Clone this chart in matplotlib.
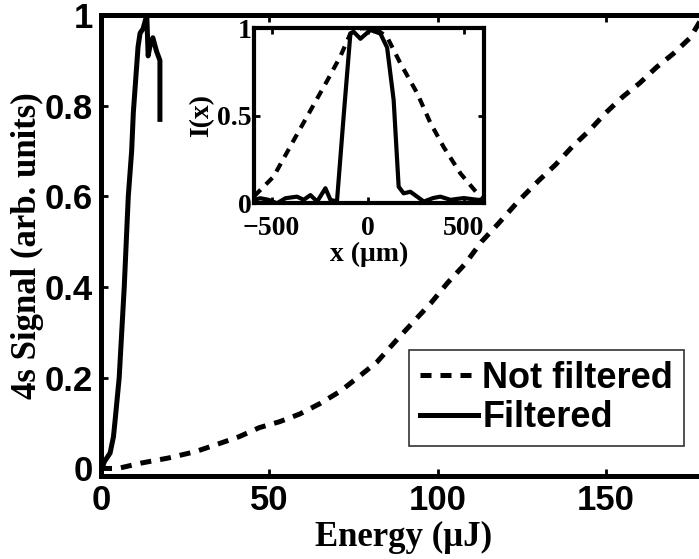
import numpy as np
import matplotlib
matplotlib.use('Agg')
import matplotlib.pyplot as plt

# main panel: 4s signal vs pulse energy
energy_nf = [0, 5, 12, 20, 28, 34, 41, 47, 53, 59, 65, 71, 77, 82, 88, 93,
             98, 103, 108, 113, 118, 124, 130, 135, 140, 145, 150, 155, 160,
             165, 170, 175, 179]
signal_nf = [0, 0.0, 0.012, 0.023, 0.037, 0.052, 0.07, 0.09, 0.103, 0.12,
             0.143, 0.17, 0.205, 0.235, 0.285, 0.325, 0.365, 0.41, 0.45, 0.5,
             0.54, 0.59, 0.635, 0.67, 0.71, 0.745, 0.785, 0.82, 0.85, 0.885,
             0.915, 0.95, 1.0]

energy_f = [0, 0.3, 1.0, 2.7, 3.7, 4.2, 5.4, 6.9, 8.1, 9.1, 9.6, 11.0, 11.6,
            12.5, 13.6, 14.0, 14.5, 15.4, 16.5, 17.5, 17.5]
signal_f = [0, 0.0, 0.015, 0.034, 0.07, 0.107, 0.2, 0.4, 0.6, 0.70, 0.785,
            0.93, 0.96, 0.97, 1.0, 0.91, 0.93, 0.95, 0.92, 0.90, 0.77]

# inset: transverse beam profiles
x_nf = [-590, -576, -490, -385, -298, -211, -142, -90, -40, 10, 50, 101, 170,
        257, 326, 396, 483, 570, 605]
I_nf = [0.04, 0.057, 0.152, 0.36, 0.53, 0.70, 0.84, 0.97, 1.0, 1.0, 0.99,
        0.95, 0.80, 0.63, 0.46, 0.32, 0.17, 0.057, 0.03]

x_f = [-590, -559, -516, -472, -428, -368, -333, -298, -263, -220, -194, -160,
       -125, -90, -73, -38, 14, 66, 101, 135, 161, 187, 222, 257, 292, 340,
       378, 430, 500, 570, 605]
I_f = [0.02, 0.029, 0.02, 0.0, 0.029, 0.038, 0.02, 0.047, 0.01, 0.086, 0.02,
       0.01, 0.5, 0.97, 0.98, 0.94, 0.99, 0.97, 0.89, 0.59, 0.095, 0.057,
       0.066, 0.038, 0.01, 0.03, 0.038, 0.02, 0.03, 0.02, 0.02]

sans = 'Liberation Sans'
serif = 'Liberation Serif'
dash = (0, (2.2, 1.8))

fig = plt.figure(figsize=(6.99, 5.59), dpi=100)
ax = fig.add_axes([0.1445, 0.149, 0.867, 0.824])

ax.plot(energy_nf, signal_nf, color='k', lw=3.6, linestyle=dash, label='Not filtered')
ax.plot(energy_f, signal_f, color='k', lw=3.6, label='Filtered')

ax.set_xlim(0, 180)
ax.set_ylim(-0.016, 1.0)
ax.set_xticks([0, 50, 100, 150])
ax.set_yticks([0, 0.2, 0.4, 0.6, 0.8, 1])
ax.set_yticklabels(['0', '0.2', '0.4', '0.6', '0.8', '1'])
ax.tick_params(direction='in', length=5, width=2, top=True, right=True, pad=6)
for lab in ax.get_xticklabels() + ax.get_yticklabels():
    lab.set_fontfamily(sans)
    lab.set_fontweight('bold')
    lab.set_fontsize(25)
for sp in ax.spines.values():
    sp.set_linewidth(3.6)

ax.set_xlabel('Energy (\u03bcJ)', fontfamily=serif, fontweight='bold', fontsize=25, labelpad=3)
ax.set_ylabel('4s Signal (arb. units)', fontfamily=serif, fontweight='bold', fontsize=25, labelpad=0)

leg = ax.legend(loc='lower right', bbox_to_anchor=(684 / 699, 0.202), bbox_transform=fig.transFigure,
                prop={'family': sans, 'weight': 'bold', 'size': 26}, frameon=True, fancybox=False,
                handlelength=1.6, handletextpad=0.12, labelspacing=0.12, borderpad=0.3,
                borderaxespad=0)
leg.get_frame().set_edgecolor('k')
leg.get_frame().set_linewidth(1.2)

# inset
axi = fig.add_axes([0.3638, 0.6363, 0.3286, 0.3131])
axi.plot(x_nf, I_nf, color='k', lw=3.0, linestyle=dash)
axi.plot(x_f, I_f, color='k', lw=3.0)
axi.set_xlim(-590, 605)
axi.set_ylim(0, 1)
axi.set_xticks([-500, 0, 500])
axi.set_xticklabels(['\u2212500', '0', '500'])
axi.set_yticks([0, 0.5, 1])
axi.set_yticklabels(['0', '0.5', '1'])
axi.tick_params(direction='in', length=4, width=2, top=True, right=True)
axi.tick_params(axis='x', pad=9)
axi.tick_params(axis='y', pad=2)
for lab in axi.get_xticklabels() + axi.get_yticklabels():
    lab.set_fontfamily(serif)
    lab.set_fontweight('bold')
    lab.set_fontsize(20)
for sp in axi.spines.values():
    sp.set_linewidth(3.0)
axi.set_xlabel('x (\u03bcm)', fontfamily=serif, fontweight='bold', fontsize=20, labelpad=1)
axi.set_ylabel('I(x)', fontfamily=serif, fontweight='bold', fontsize=20, labelpad=2)

fig.savefig('out.png', dpi=100)
